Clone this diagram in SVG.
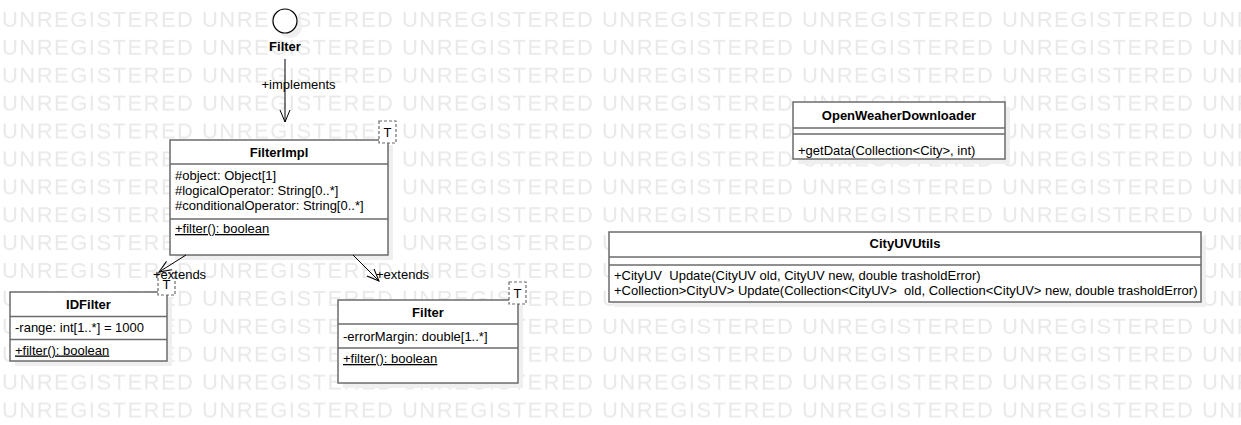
<svg xmlns="http://www.w3.org/2000/svg" width="1241" height="425" viewBox="0 0 1241 425">
<defs>
<style>
.wm{font-family:"Liberation Sans",Arial,sans-serif;font-size:22px;fill:#e9e9e9}
.box{fill:#fff;stroke:#6b6b6b;stroke-width:1.5}
.dv{stroke:#6b6b6b;stroke-width:1.5;fill:none}
.sh{fill:#efefef}
.t{font-family:"Liberation Sans",Arial,sans-serif;font-size:13px;fill:#000;white-space:pre}
.b{font-weight:bold;text-anchor:middle}
.m{text-anchor:middle}
.u{text-decoration:underline}
.tpl{fill:#fff;stroke:#6b6b6b;stroke-width:1.2;stroke-dasharray:3 2}
.c{stroke:#000;fill:none;stroke-width:1}
</style>
<pattern id="wmp" x="0" y="0" width="200" height="27.9" patternUnits="userSpaceOnUse">
<text class="wm" x="2" y="26.5" textLength="191" lengthAdjust="spacing">UNREGISTERED</text>
</pattern>
<marker id="open" viewBox="0 0 14 12" refX="13" refY="6" markerWidth="14" markerHeight="12" markerUnits="userSpaceOnUse" orient="auto">
<path d="M1,1 L13,6 L1,11" fill="none" stroke="#000" stroke-width="1"/>
</marker>
</defs>
<rect width="1241" height="425" fill="#fff"/>
<rect width="1241" height="425" fill="url(#wmp)"/>

<g id="iface-filter">
<circle class="sh" cx="290" cy="26" r="12"/>
<circle cx="285" cy="21" r="12" fill="#fff" stroke="#000" stroke-width="1.2"/>
<text class="t b" x="285" y="50.5">Filter</text>
</g>

<g id="FilterImpl">
<rect class="sh" x="175" y="145" width="218" height="115"/>
<rect class="box" x="170" y="140" width="218" height="115"/>
<line class="dv" x1="170" y1="164" x2="388" y2="164"/>
<line class="dv" x1="170" y1="219" x2="388" y2="219"/>
<text class="t b" x="279" y="157">FilterImpl</text>
<text class="t" x="175" y="180">#object: Object[1]</text>
<text class="t" x="175" y="195">#logicalOperator: String[0..*]</text>
<text class="t" x="175" y="210">#conditionalOperator: String[0..*]</text>
<text class="t u" x="175" y="233">+filter(): boolean</text>
<rect class="tpl" x="379" y="121" width="17" height="22"/>
<text class="t m" x="387.5" y="137">T</text>
</g>

<g id="IDFilter">
<rect class="sh" x="15" y="297" width="157" height="69"/>
<rect class="box" x="10" y="292" width="157" height="69"/>
<line class="dv" x1="10" y1="316.5" x2="167" y2="316.5"/>
<line class="dv" x1="10" y1="339.5" x2="167" y2="339.5"/>
<text class="t b" x="88.5" y="309">IDFilter</text>
<text class="t" x="15" y="332">-range: int[1..*] = 1000</text>
<text class="t u" x="15" y="354.5">+filter(): boolean</text>
<rect class="tpl" x="158" y="273" width="17" height="22"/>
<text class="t m" x="166.5" y="289">T</text>
</g>

<g id="FilterChild">
<rect class="sh" x="343" y="305" width="180" height="83"/>
<rect class="box" x="338" y="300" width="180" height="83"/>
<line class="dv" x1="338" y1="324" x2="518" y2="324"/>
<line class="dv" x1="338" y1="348" x2="518" y2="348"/>
<text class="t b" x="428" y="317">Filter</text>
<text class="t" x="343" y="341">-errorMargin: double[1..*]</text>
<text class="t u" x="343" y="363">+filter(): boolean</text>
<rect class="tpl" x="509" y="282" width="17" height="22"/>
<text class="t m" x="517.5" y="298">T</text>
</g>

<g id="OpenWeaherDownloader">
<rect class="sh" x="798" y="107" width="212" height="57"/>
<rect class="box" x="793" y="102" width="212" height="57"/>
<line class="dv" x1="793" y1="128" x2="1005" y2="128"/>
<line class="dv" x1="793" y1="134" x2="1005" y2="134"/>
<text class="t b" x="899" y="120">OpenWeaherDownloader</text>
<text class="t" x="798" y="155">+getData(Collection&lt;City&gt;, int)</text>
</g>

<g id="CityUVUtils">
<rect class="sh" x="614" y="237" width="592" height="70"/>
<rect class="box" x="609" y="232" width="592" height="70"/>
<line class="dv" x1="609" y1="257" x2="1201" y2="257"/>
<line class="dv" x1="609" y1="265" x2="1201" y2="265"/>
<text class="t b" x="905" y="248">CityUVUtils</text>
<text class="t" x="614" y="280">+CityUV  Update(CityUV old, CityUV new, double trasholdError)</text>
<text class="t" x="614" y="295">+Collection&gt;CityUV&gt; Update(Collection&lt;CityUV&gt;  old, Collection&lt;CityUV&gt; new, double trasholdError)</text>
</g>

<g id="connectors">
<line class="c" x1="285" y1="59" x2="285" y2="122" marker-end="url(#open)"/>
<text class="t m" x="298.5" y="89">+implements</text>
<line class="c" x1="186" y1="255" x2="159" y2="272" marker-end="url(#open)"/>
<text class="t" x="153" y="279">+extends</text>
<line class="c" x1="353" y1="255" x2="379" y2="281" marker-end="url(#open)"/>
<text class="t" x="376" y="279">+extends</text>
</g>
</svg>
